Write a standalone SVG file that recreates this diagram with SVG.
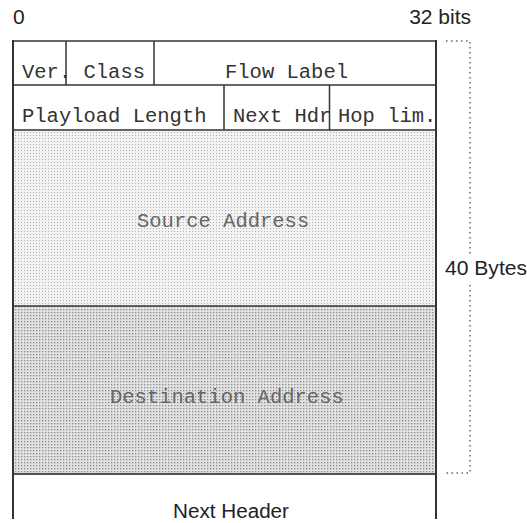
<svg xmlns="http://www.w3.org/2000/svg" width="527" height="523" viewBox="0 0 527 523">
<defs>
<pattern id="pSrc" width="3" height="3" patternUnits="userSpaceOnUse">
<rect width="3" height="3" fill="#f2f2f2"/>
<rect x="0" y="0" width="1" height="1" fill="#b0b0b0"/>
</pattern>
<pattern id="pDst" width="3" height="3" patternUnits="userSpaceOnUse">
<rect width="3" height="3" fill="#e2e2e2"/>
<rect x="0" y="0" width="1.3" height="1.3" fill="#8a8a8a"/>
</pattern>
</defs>
<style>
.ln{stroke:#333;stroke-width:1.5;fill:none}
.mono{font-family:"Liberation Mono","Courier New",monospace;font-size:20.5px;fill:#333}
.gmono{font-family:"Liberation Mono","Courier New",monospace;font-size:20.5px;fill:#666}
.sans{font-family:"Liberation Sans",Arial,sans-serif;font-size:21px;fill:#222}
.dot{stroke:#666;stroke-width:1.5;stroke-dasharray:1.5 3.5;fill:none}
</style>
<rect width="527" height="523" fill="#fff"/>
<g id="src">
<rect x="13" y="130" width="423" height="176" fill="url(#pSrc)"/>
<text class="gmono" x="137" y="227">Source Address</text>
</g>
<g id="dst">
<rect x="13" y="306" width="423" height="168" fill="url(#pDst)"/>
<text class="gmono" x="110" y="403">Destination Address</text>
</g>
<g id="row1">
<line class="ln" x1="66" y1="41" x2="66" y2="85"/>
<line class="ln" x1="154" y1="41" x2="154" y2="85"/>
<text class="mono" x="22" y="78">Ver. Class</text>
<text class="mono" x="225" y="78">Flow Label</text>
</g>
<g id="row2">
<line class="ln" x1="224" y1="85" x2="224" y2="130"/>
<line class="ln" x1="329.5" y1="85" x2="329.5" y2="130"/>
<text class="mono" x="22" y="122">Playload Length</text>
<text class="mono" x="233" y="122">Next Hdr</text>
<text class="mono" x="338" y="122">Hop lim.</text>
</g>
<g id="frame">
<line class="ln" x1="13" y1="41" x2="436" y2="41"/>
<line class="ln" x1="13" y1="85" x2="436" y2="85"/>
<line class="ln" x1="13" y1="130" x2="436" y2="130"/>
<line class="ln" x1="13" y1="306" x2="436" y2="306"/>
<line class="ln" x1="13" y1="474" x2="436" y2="474" style="stroke:#555;stroke-width:2"/>
<line class="ln" x1="13" y1="40" x2="13" y2="519" style="stroke-width:2"/>
<line class="ln" x1="436" y1="40" x2="436" y2="519" style="stroke-width:2"/>
</g>
<g id="next">
<text class="sans" x="173" y="518" textLength="116" lengthAdjust="spacingAndGlyphs" style="font-size:20px">Next Header</text>
</g>
<g id="labels">
<text class="sans" x="13" y="24">0</text>
<text class="sans" x="471" y="24" text-anchor="end">32 bits</text>
<text class="sans" x="445" y="275" textLength="82" lengthAdjust="spacingAndGlyphs">40 Bytes</text>
</g>
<g id="connectors">
<path class="dot" d="M446 41 H470 V254"/>
<path class="dot" d="M470 285 V473 H446"/>
</g>
</svg>
